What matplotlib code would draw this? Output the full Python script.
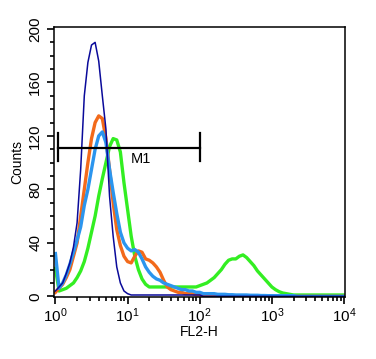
import numpy as np
import matplotlib.pyplot as plt
from matplotlib.ticker import MultipleLocator, LogLocator, NullFormatter

plt.rcParams['font.family'] = ['Liberation Sans', 'DejaVu Sans']

# channel position in decades (FL2-H = 10**decade)
decade = np.round(np.arange(0, 4.001, 0.05), 2)

navy = [4, 7, 10, 17, 25, 37, 55, 95, 150, 175, 188, 190, 176, 150, 125, 75,
        45, 22, 10, 4, 2, 1, 1, 1, 1, 1, 1, 1, 1, 1, 1, 1, 1, 1, 1, 1,
        1, 1, 1, 1, 1, 0, 0, 0, 0, 0, 0, 0, 0, 0, 0, 0, 0, 0, 0, 0,
        0, 0, 0, 0, 0, 0, 0, 0, 0, 0, 0, 0, 0, 0, 0, 0, 0, 0, 0, 0,
        0, 0, 0, 0, 0]
orange = [3, 6, 9, 14, 20, 30, 40, 60, 80, 100, 118, 130, 135, 133, 118, 95,
          70, 50, 38, 30, 26, 25, 30, 34, 33, 28, 27, 25, 22, 18, 12, 7,
          5, 4, 3, 3, 2, 2, 2, 1, 1, 0.5, 0, 0, 0, 0, 0, 0, 0, 0, 0, 0,
          0, 0, 0, 0, 0, 0, 0, 0, 0, 0, 0, 0, 0, 0, 0, 0, 0, 0, 0, 0,
          0, 0, 0, 0, 0, 0, 0, 0, 0]
blue = [32, 6, 10, 16, 24, 33, 42, 52, 68, 80, 95, 110, 120, 123, 115, 95,
        78, 62, 48, 40, 36, 34, 35, 33, 28, 22, 18, 15, 13, 12, 10, 9,
        8, 7, 6, 5, 5, 4, 4, 3, 3, 2, 2, 2, 2, 1.5, 1.5, 1.5, 1.2, 1.2,
        1, 1, 1, 1, 0.8, 0.8, 0.8, 0.6, 0.6, 0.5, 0.5, 0.5, 0.5, 0.5, 0.5, 0.5,
        0.5, 0, 0, 0, 0, 0, 0, 0, 0, 0, 0, 0, 0, 0, 0]
green = [21, 4, 5, 6, 8, 10, 14, 19, 26, 36, 48, 60, 75, 88, 100, 112,
         118, 117, 108, 85, 65, 45, 30, 20, 13, 9, 7, 7, 7, 7, 7, 7,
         7, 7, 7, 7, 7, 7, 7, 7, 8, 9, 10, 12, 14, 17, 20, 24, 27, 28,
         28, 30, 31, 29, 26, 23, 19, 16, 13, 10, 7, 5, 3.5, 2.5, 2, 1.5,
         1, 1, 1, 1, 1, 1, 1, 1, 1, 1, 1, 1, 1, 1, 1]

gate_lo, gate_hi, gate_y = 10**0.04, 10**2, 111

fig = plt.figure(figsize=(3.76, 3.59), dpi=100)
ax = fig.add_axes([0.1436, 0.1727, 0.7740, 0.7521])

x = 10**decade
ax.plot(x, green, color='#33ee22', lw=2.4)
ax.plot(x, orange, color='#f26a1b', lw=2.4)
ax.plot(x, blue, color='#2b95ee', lw=2.4)
ax.plot(x, navy, color='#0a0a9a', lw=1.1)

# M1 gate
ax.plot([gate_lo, gate_hi], [gate_y, gate_y], color='black', lw=1.6)
ax.plot([gate_lo, gate_lo], [101, 122], color='black', lw=1.6)
ax.plot([gate_hi, gate_hi], [101, 122], color='black', lw=1.6)
ax.text(10**1.04, 100, 'M1', fontsize=10.5)

ax.set_xscale('log')
ax.set_xlim(10**-0.02, 10**4.014)
ax.set_ylim(-0.5, 201.5)
ax.set_xticks([1, 10, 100, 1000, 10000])
ax.xaxis.set_minor_locator(LogLocator(base=10, subs=np.arange(2, 10)))
ax.xaxis.set_minor_formatter(NullFormatter())
ax.yaxis.set_major_locator(MultipleLocator(40))
ax.yaxis.set_minor_locator(MultipleLocator(10))
ax.tick_params(which='major', direction='out', length=5, width=1.2, labelsize=11)
ax.tick_params(which='minor', direction='out', length=3, width=1.2)
ax.tick_params(axis='x', pad=2)
for lab in ax.get_yticklabels():
    lab.set_rotation(90)
    lab.set_va('center')
for sp in ax.spines.values():
    sp.set_linewidth(1.1)

ax.set_xlabel('FL2-H', fontsize=10, labelpad=0)
ax.set_ylabel('Counts', fontsize=10, labelpad=3)

fig.savefig('out.png', dpi=100)
